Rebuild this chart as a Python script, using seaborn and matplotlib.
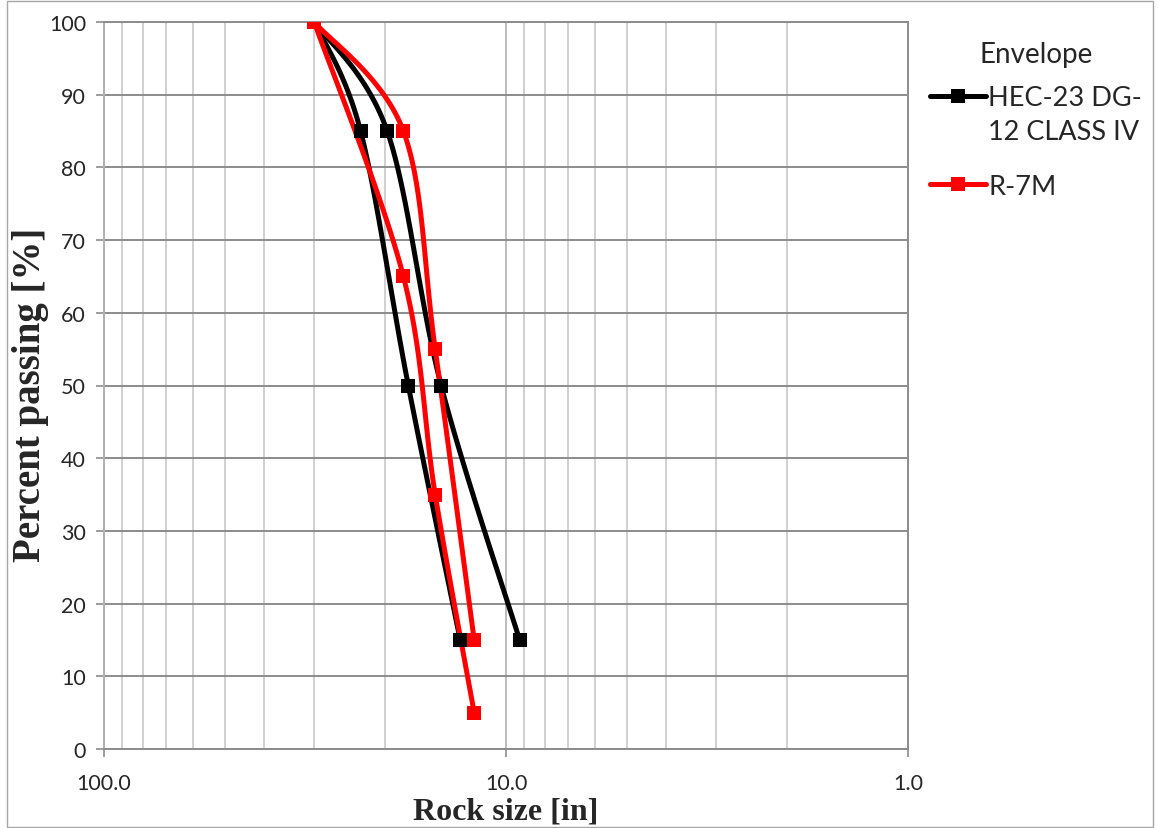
import numpy as np
import seaborn as sns
import matplotlib.pyplot as plt
from matplotlib.lines import Line2D
from matplotlib.legend_handler import HandlerLine2D
from matplotlib.patches import Rectangle
from matplotlib.ticker import FixedLocator, LogLocator, FuncFormatter, NullFormatter

# values
pct_hec = [100, 85, 50, 15]
hec_coarse = [30, 23.0, 17.5, 13.0]
hec_fine = [30, 19.75, 14.5, 9.25]
r7m_size = [30, 18.0, 15.0, 12.0]
pct_r7m_lower = [100, 65, 35, 5]
pct_r7m_upper = [100, 85, 55, 15]
x_ticks = [100, 10, 1]
y_ticks = list(range(0, 101, 10))

BLACK = '#000000'
RED = '#ff0000'


def smooth(sizes, pcts, n=40):
    # excel style smoothed line (bezier through the points, in screen-like units)
    px = np.log10(sizes) * 402.0
    py = np.asarray(pcts, float) * 7.27
    P = np.column_stack([px, py])
    P = np.vstack([P[0], P, P[-1]])
    t = np.linspace(0, 1, n)[:, None]
    out = []
    for i in range(1, len(P) - 2):
        p0, p1, p2, p3 = P[i - 1], P[i], P[i + 1], P[i + 2]
        c1 = p1 + (p2 - p0) / 6
        c2 = p2 - (p3 - p1) / 6
        seg = (1 - t)**3 * p1 + 3 * (1 - t)**2 * t * c1 + 3 * (1 - t) * t**2 * c2 + t**3 * p2
        out.append(seg if i == 1 else seg[1:])
    out = np.vstack(out)
    return 10 ** (out[:, 0] / 402.0), out[:, 1] / 7.27


class FirstLineHandler(HandlerLine2D):
    # put the legend line next to the first line of a wrapped label
    def __init__(self, shift=0, **kw):
        super().__init__(**kw)
        self.shift = shift

    def create_artists(self, legend, orig_handle, xdescent, ydescent, width, height, fontsize, trans):
        arts = super().create_artists(legend, orig_handle, xdescent, ydescent, width, height, fontsize, trans)
        for a in arts:
            a.set_ydata(np.asarray(a.get_ydata()) + self.shift)
        return arts


sns.set_style('white')
plt.rcParams['font.family'] = ['Lato', 'DejaVu Sans']

fig = plt.figure(figsize=(11.58, 8.29), dpi=100)
ax = fig.add_axes([104 / 1158, 79 / 829, 804 / 1158, 727 / 829])

series = [
    (hec_coarse, pct_hec, BLACK),
    (hec_fine, pct_hec, BLACK),
    (r7m_size, pct_r7m_lower, RED),
    (r7m_size, pct_r7m_upper, RED),
]
for sizes, pcts, col in series:
    sx, sy = smooth(sizes, pcts)
    sns.lineplot(x=sx, y=sy, sort=False, estimator=None, color=col, lw=3.6, ax=ax, zorder=3)
    sns.scatterplot(x=sizes, y=pcts, marker='s', s=90, color=col, linewidth=0, ax=ax, zorder=4)

ax.set_xscale('log')
ax.set_xlim(100, 1)
ax.set_ylim(0, 100)
ax.xaxis.set_major_locator(FixedLocator(x_ticks))
ax.xaxis.set_major_formatter(FuncFormatter(lambda v, p: f'{v:.1f}'))
ax.xaxis.set_minor_locator(LogLocator(base=10, subs=np.arange(2, 10)))
ax.xaxis.set_minor_formatter(NullFormatter())
ax.yaxis.set_major_locator(FixedLocator(y_ticks))

ax.grid(True, which='major', axis='x', color='#b0b0b0', lw=1.2)
ax.grid(True, which='minor', axis='x', color='#c8c8c8', lw=1.2)
ax.grid(True, which='major', axis='y', color='#8c8c8c', lw=1.4)
ax.set_axisbelow(True)

for side in ['left', 'bottom', 'top', 'right']:
    ax.spines[side].set_visible(True)
    ax.spines[side].set_color('#8c8c8c')
    ax.spines[side].set_linewidth(1.4)
ax.spines['left'].set_color('#b0b0b0')

ax.tick_params(axis='x', which='major', direction='out', length=6, width=1.2, color='#8c8c8c',
               pad=11, labelsize=15.5, bottom=True)
ax.tick_params(axis='x', which='minor', length=0)
ax.tick_params(axis='y', which='major', direction='out', length=6, width=1.2, color='#8c8c8c',
               pad=7, labelsize=15.5, left=True)

ax.set_xlabel('Rock size [in]', family='Liberation Serif', fontweight='bold', fontsize=23)
ax.set_ylabel('Percent passing [%]', family='Liberation Serif', fontweight='bold', fontsize=28)
ax.xaxis.set_label_coords(0.5, -0.065)
ax.yaxis.set_label_coords(-0.068, 0.488)

handles = [
    Line2D([], [], color=BLACK, lw=3.6, marker='s', markersize=9.5, markeredgewidth=0),
    Line2D([], [], color=RED, lw=3.6, marker='s', markersize=9.5, markeredgewidth=0),
]
leg = ax.legend(handles, ['HEC-23 DG-\n12 CLASS IV', 'R-7M'], title='Envelope',
                loc='upper left', bbox_to_anchor=(930 / 1158, 1 - 42 / 829),
                bbox_transform=fig.transFigure, frameon=False, fontsize=19.5, title_fontsize=20,
                handlelength=2.05, handletextpad=0.1, borderpad=0, borderaxespad=0,
                labelspacing=1.1,
                handler_map={handles[0]: FirstLineHandler(shift=13.3)})
for txt in leg.get_texts():
    txt.set_linespacing(1.46)
leg._legend_box.sep = 12.8

fig.add_artist(Rectangle((7 / 1158, 1 / 829), 1146 / 1158, 826 / 829, transform=fig.transFigure,
                         fill=False, edgecolor='#a6a6a6', lw=1))

fig.savefig('out.png', dpi=100)
